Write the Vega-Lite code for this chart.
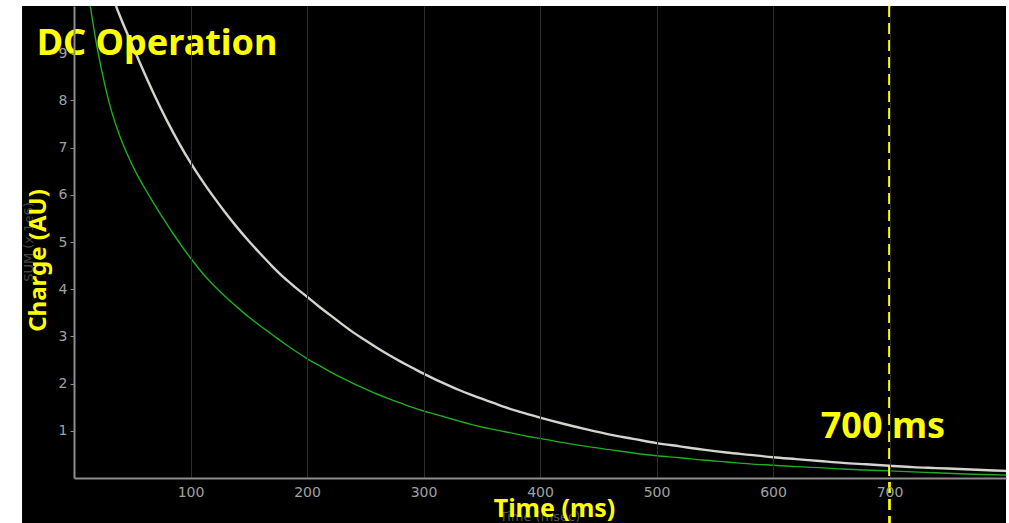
{
  "$schema": "https://vega.github.io/schema/vega-lite/v6.json",
  "autosize": {"type": "none"},
  "width": 932,
  "height": 472,
  "padding": {"left": 74, "top": 6, "right": 3, "bottom": 45},
  "background": "#ffffff",
  "config": {
    "view": {"stroke": null}
  },
  "datasets": {
    "curves": [
      {"t": 36, "v": 10.0, "s": "white"}, {"t": 40, "v": 9.75, "s": "white"}, {"t": 50, "v": 9.17, "s": "white"},
      {"t": 60, "v": 8.6, "s": "white"}, {"t": 70, "v": 8.06, "s": "white"}, {"t": 80, "v": 7.56, "s": "white"},
      {"t": 90, "v": 7.1, "s": "white"}, {"t": 100, "v": 6.68, "s": "white"}, {"t": 110, "v": 6.3, "s": "white"},
      {"t": 120, "v": 5.95, "s": "white"}, {"t": 130, "v": 5.62, "s": "white"}, {"t": 140, "v": 5.31, "s": "white"},
      {"t": 150, "v": 5.02, "s": "white"}, {"t": 160, "v": 4.75, "s": "white"}, {"t": 170, "v": 4.49, "s": "white"},
      {"t": 180, "v": 4.25, "s": "white"}, {"t": 190, "v": 4.04, "s": "white"}, {"t": 200, "v": 3.84, "s": "white"},
      {"t": 210, "v": 3.64, "s": "white"}, {"t": 220, "v": 3.45, "s": "white"}, {"t": 230, "v": 3.26, "s": "white"},
      {"t": 240, "v": 3.08, "s": "white"}, {"t": 250, "v": 2.92, "s": "white"}, {"t": 260, "v": 2.76, "s": "white"},
      {"t": 270, "v": 2.61, "s": "white"}, {"t": 280, "v": 2.47, "s": "white"}, {"t": 290, "v": 2.34, "s": "white"},
      {"t": 300, "v": 2.21, "s": "white"}, {"t": 310, "v": 2.09, "s": "white"}, {"t": 320, "v": 1.98, "s": "white"},
      {"t": 330, "v": 1.87, "s": "white"}, {"t": 340, "v": 1.77, "s": "white"}, {"t": 350, "v": 1.68, "s": "white"},
      {"t": 360, "v": 1.59, "s": "white"}, {"t": 370, "v": 1.5, "s": "white"}, {"t": 380, "v": 1.42, "s": "white"},
      {"t": 390, "v": 1.35, "s": "white"}, {"t": 400, "v": 1.28, "s": "white"}, {"t": 420, "v": 1.15, "s": "white"},
      {"t": 440, "v": 1.03, "s": "white"}, {"t": 460, "v": 0.92, "s": "white"}, {"t": 480, "v": 0.83, "s": "white"},
      {"t": 500, "v": 0.74, "s": "white"}, {"t": 520, "v": 0.67, "s": "white"}, {"t": 540, "v": 0.6, "s": "white"},
      {"t": 560, "v": 0.54, "s": "white"}, {"t": 580, "v": 0.49, "s": "white"}, {"t": 600, "v": 0.44, "s": "white"},
      {"t": 620, "v": 0.4, "s": "white"}, {"t": 640, "v": 0.36, "s": "white"}, {"t": 660, "v": 0.32, "s": "white"},
      {"t": 680, "v": 0.29, "s": "white"}, {"t": 700, "v": 0.26, "s": "white"}, {"t": 720, "v": 0.23, "s": "white"},
      {"t": 740, "v": 0.21, "s": "white"}, {"t": 760, "v": 0.19, "s": "white"}, {"t": 780, "v": 0.17, "s": "white"},
      {"t": 800, "v": 0.15, "s": "white"},
      {"t": 14, "v": 10.0, "s": "green"}, {"t": 18, "v": 9.38, "s": "green"}, {"t": 22, "v": 8.85, "s": "green"},
      {"t": 26, "v": 8.38, "s": "green"}, {"t": 30, "v": 7.97, "s": "green"}, {"t": 35, "v": 7.55, "s": "green"},
      {"t": 40, "v": 7.2, "s": "green"}, {"t": 45, "v": 6.9, "s": "green"}, {"t": 50, "v": 6.63, "s": "green"},
      {"t": 55, "v": 6.39, "s": "green"}, {"t": 60, "v": 6.17, "s": "green"}, {"t": 65, "v": 5.96, "s": "green"},
      {"t": 70, "v": 5.76, "s": "green"}, {"t": 75, "v": 5.56, "s": "green"}, {"t": 80, "v": 5.37, "s": "green"},
      {"t": 85, "v": 5.18, "s": "green"}, {"t": 90, "v": 5.0, "s": "green"}, {"t": 100, "v": 4.66, "s": "green"},
      {"t": 110, "v": 4.35, "s": "green"}, {"t": 120, "v": 4.08, "s": "green"}, {"t": 130, "v": 3.84, "s": "green"},
      {"t": 140, "v": 3.62, "s": "green"}, {"t": 150, "v": 3.41, "s": "green"}, {"t": 160, "v": 3.22, "s": "green"},
      {"t": 170, "v": 3.04, "s": "green"}, {"t": 180, "v": 2.86, "s": "green"}, {"t": 190, "v": 2.69, "s": "green"},
      {"t": 200, "v": 2.53, "s": "green"}, {"t": 210, "v": 2.39, "s": "green"}, {"t": 220, "v": 2.25, "s": "green"},
      {"t": 230, "v": 2.12, "s": "green"}, {"t": 240, "v": 2.0, "s": "green"}, {"t": 250, "v": 1.89, "s": "green"},
      {"t": 260, "v": 1.78, "s": "green"}, {"t": 270, "v": 1.68, "s": "green"}, {"t": 280, "v": 1.59, "s": "green"},
      {"t": 290, "v": 1.5, "s": "green"}, {"t": 300, "v": 1.42, "s": "green"}, {"t": 310, "v": 1.35, "s": "green"},
      {"t": 320, "v": 1.28, "s": "green"}, {"t": 330, "v": 1.21, "s": "green"}, {"t": 340, "v": 1.14, "s": "green"},
      {"t": 350, "v": 1.08, "s": "green"}, {"t": 360, "v": 1.03, "s": "green"}, {"t": 370, "v": 0.98, "s": "green"},
      {"t": 380, "v": 0.93, "s": "green"}, {"t": 390, "v": 0.88, "s": "green"}, {"t": 400, "v": 0.84, "s": "green"},
      {"t": 420, "v": 0.75, "s": "green"}, {"t": 440, "v": 0.67, "s": "green"}, {"t": 460, "v": 0.6, "s": "green"},
      {"t": 480, "v": 0.53, "s": "green"}, {"t": 500, "v": 0.47, "s": "green"}, {"t": 520, "v": 0.43, "s": "green"},
      {"t": 540, "v": 0.38, "s": "green"}, {"t": 560, "v": 0.34, "s": "green"}, {"t": 580, "v": 0.3, "s": "green"},
      {"t": 600, "v": 0.27, "s": "green"}, {"t": 620, "v": 0.24, "s": "green"}, {"t": 640, "v": 0.22, "s": "green"},
      {"t": 660, "v": 0.19, "s": "green"}, {"t": 680, "v": 0.17, "s": "green"}, {"t": 700, "v": 0.15, "s": "green"},
      {"t": 720, "v": 0.13, "s": "green"}, {"t": 740, "v": 0.11, "s": "green"}, {"t": 760, "v": 0.09, "s": "green"},
      {"t": 780, "v": 0.075, "s": "green"}, {"t": 800, "v": 0.06, "s": "green"}
    ],
    "one": [{"k": 1}]
  },
  "layer": [
    {
      "data": {"name": "one"},
      "mark": {"type": "rect", "color": "#000000"},
      "encoding": {
        "x": {"datum": -44.6, "type": "quantitative", "scale": {"domain": [0, 800], "nice": false, "zero": false}},
        "x2": {"datum": 800},
        "y": {"datum": 10, "type": "quantitative", "scale": {"domain": [0, 10], "nice": false, "zero": false}},
        "y2": {"datum": -0.96}
      }
    },
    {
      "data": {"name": "curves"},
      "transform": [{"filter": "datum.s === 'green'"}],
      "mark": {"type": "line", "color": "#1fae1f", "strokeWidth": 1.4, "clip": true, "interpolate": "monotone"},
      "encoding": {
        "x": {"field": "t", "type": "quantitative", "scale": {"domain": [0, 800], "nice": false, "zero": false},
          "axis": {
            "zindex": 1,
            "values": [100, 200, 300, 400, 500, 600, 700],
            "grid": true, "gridColor": "#2c2c2c", "gridWidth": 1,
            "domainColor": "#8c8c8c", "domainWidth": 2,
            "ticks": false, "labelPadding": 7,
            "labelColor": "#a0a0a0", "labelFont": "DejaVu Sans", "labelFontSize": 14,
            "title": "Time (ms)", "titleColor": "#ffff00", "titleFont": "Noto Sans", "titleFontSize": 25, "titleFontWeight": "bold",
            "titleX": 480, "titleY": 38, "titleBaseline": "alphabetic", "titleAlign": "center"
          }
        },
        "y": {"field": "v", "type": "quantitative", "scale": {"domain": [0, 10], "nice": false, "zero": false},
          "axis": {
            "zindex": 1,
            "values": [1, 2, 3, 4, 5, 6, 7, 8, 9],
            "grid": false,
            "domainColor": "#8c8c8c", "domainWidth": 2,
            "ticks": true, "tickSize": 4, "tickColor": "#8c8c8c", "labelPadding": 3,
            "labelColor": "#a0a0a0", "labelFont": "DejaVu Sans", "labelFontSize": 14,
            "title": "Charge (AU)", "titleColor": "#ffff00", "titleFont": "Noto Sans", "titleFontSize": 24, "titleFontWeight": "bold",
            "titleAngle": 270, "titleX": -29, "titleY": 254, "titleBaseline": "alphabetic", "titleAlign": "center"
          }
        }
      }
    },
    {
      "data": {"name": "curves"},
      "transform": [{"filter": "datum.s === 'white'"}],
      "mark": {"type": "line", "color": "#d4d4cc", "strokeWidth": 2.4, "clip": true, "interpolate": "monotone"},
      "encoding": {
        "x": {"field": "t", "type": "quantitative"},
        "y": {"field": "v", "type": "quantitative"}
      }
    },
    {
      "data": {"name": "one"},
      "mark": {"type": "text", "text": "Time (msec)", "font": "DejaVu Sans", "fontSize": 13, "color": "#555555", "align": "center", "baseline": "alphabetic"},
      "encoding": {"x": {"datum": 400}, "y": {"datum": -0.92}}
    },
    {
      "data": {"name": "one"},
      "mark": {"type": "text", "text": "SUM (x 1e6)", "font": "DejaVu Sans", "fontSize": 13, "color": "#444444", "align": "center", "baseline": "middle", "angle": 270},
      "encoding": {"x": {"datum": -38.6}, "y": {"datum": 5.0}}
    },
    {
      "data": {"name": "one"},
      "mark": {"type": "rule", "color": "#ffff00", "strokeWidth": 2.7, "strokeDash": [11, 6]},
      "encoding": {"x": {"datum": 700}, "y": {"datum": 10}, "y2": {"datum": -0.96}}
    },
    {
      "data": {"name": "one"},
      "mark": {"type": "text", "text": "DC Operation", "font": "Noto Sans", "fontSize": 36, "fontWeight": "bold", "color": "#ffff00", "align": "left", "baseline": "alphabetic"},
      "encoding": {"x": {"datum": -32}, "y": {"datum": 8.97}}
    },
    {
      "data": {"name": "one"},
      "mark": {"type": "text", "text": "700 ms", "font": "Noto Sans", "fontSize": 36, "fontWeight": "bold", "color": "#ffff00", "align": "left", "baseline": "alphabetic"},
      "encoding": {"x": {"datum": 641}, "y": {"datum": 0.85}}
    }
  ]
}
